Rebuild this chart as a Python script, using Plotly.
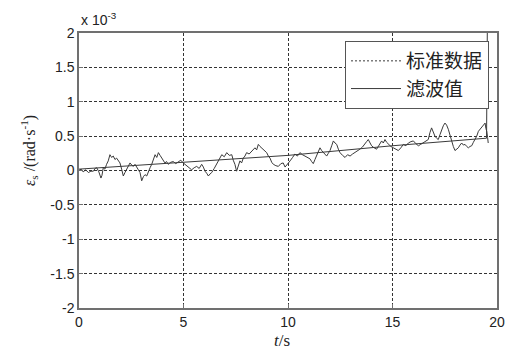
import plotly.graph_objects as go

# Noisy "standard data" (units of 1e-3 rad/s)
t_std = [0.0, 0.1, 0.2, 0.32, 0.45, 0.57, 0.69, 0.77, 0.85, 0.95, 1.05, 1.1, 1.16, 1.24, 1.32,
         1.40, 1.48, 1.56, 1.64, 1.72, 1.80, 1.88, 1.96, 2.04, 2.12, 2.2, 2.28, 2.36,
         2.44, 2.52, 2.60, 2.68, 2.76, 2.84, 2.92, 3.0, 3.08, 3.16, 3.24, 3.32, 3.40, 3.48,
         3.56, 3.64, 3.72, 3.80, 3.88, 3.96, 4.04, 4.11, 4.19, 4.27, 4.39, 4.51,
         4.63, 4.75, 4.87, 4.99, 5.07, 5.15, 5.27, 5.39, 5.51, 5.63, 5.75, 5.87, 5.95, 6.03,
         6.11, 6.19, 6.27, 6.35, 6.47, 6.59, 6.71, 6.83, 6.95, 7.07, 7.19, 7.31, 7.38, 7.46,
         7.54, 7.62, 7.70, 7.78, 7.86, 7.94, 8.02, 8.14, 8.26, 8.34, 8.42, 8.50, 8.58, 8.66,
         8.74, 8.86, 8.98, 9.06, 9.14, 9.22, 9.30, 9.42, 9.54, 9.66, 9.77, 9.86,
         9.98, 10.10, 10.22, 10.33, 10.45, 10.57, 10.69, 10.81, 10.93, 11.05, 11.13, 11.21,
         11.29, 11.37, 11.45, 11.53, 11.61, 11.69, 11.77, 11.85, 11.93, 12.01, 12.09, 12.17,
         12.25, 12.33, 12.41, 12.49, 12.61, 12.73, 12.85, 12.97, 13.09, 13.21, 13.33, 13.44,
         13.56, 13.68, 13.76, 13.84, 13.92, 14.0, 14.12, 14.24, 14.36, 14.48, 14.56, 14.64,
         14.72, 14.80, 14.92, 15.04, 15.16, 15.28, 15.40, 15.52, 15.64, 15.76, 15.88, 16.0,
         16.12, 16.24, 16.35, 16.47, 16.59, 16.71, 16.79, 16.87, 16.95, 17.03, 17.11, 17.19,
         17.27, 17.35, 17.43, 17.51, 17.59, 17.67, 17.75, 17.83, 17.91, 17.99, 18.07, 18.15,
         18.23, 18.31, 18.39, 18.47, 18.55, 18.63, 18.71, 18.79, 18.87, 18.95, 19.03, 19.11,
         19.19, 19.27, 19.35, 19.43, 19.47, 19.51, 19.55, 19.58]
v_std = [0.0, 0.02, -0.02, 0.01, -0.03, -0.01, -0.01, 0.03, 0.04, -0.02, -0.11, -0.07, 0.04, 0.02, 0.09,
         0.14, 0.23, 0.19, 0.21, 0.16, 0.18, 0.14, 0.11, 0.02, -0.08, -0.03, 0.01, 0.07,
         0.11, 0.08, 0.06, 0.09, 0.04, 0.01, -0.03, -0.15, -0.09, -0.06, -0.08, -0.01, 0.04, 0.09,
         0.17, 0.23, 0.19, 0.26, 0.22, 0.18, 0.14, 0.11, 0.13, 0.09, 0.12, 0.13,
         0.10, 0.13, 0.15, 0.11, 0.09, 0.06, 0.03, 0.01, 0.04, 0.06, 0.03, 0.09, 0.05, -0.01,
         -0.04, -0.08, -0.05, -0.03, 0.03, 0.09, 0.16, 0.23, 0.20, 0.26, 0.22, 0.23, 0.15, 0.09,
         -0.01, 0.07, 0.14, 0.11, 0.18, 0.21, 0.26, 0.24, 0.28, 0.31, 0.33, 0.30, 0.38, 0.35,
         0.33, 0.29, 0.26, 0.21, 0.18, 0.12, 0.09, 0.07, 0.06, 0.10, 0.11, 0.05,
         0.09, 0.14, 0.19, 0.24, 0.21, 0.26, 0.23, 0.21, 0.18, 0.17, 0.13, 0.10,
         0.16, 0.21, 0.27, 0.33, 0.29, 0.26, 0.23, 0.21, 0.25, 0.29, 0.36, 0.43,
         0.40, 0.38, 0.31, 0.26, 0.22, 0.19, 0.23, 0.21, 0.24, 0.26, 0.28, 0.31,
         0.34, 0.38, 0.42, 0.45, 0.40, 0.36, 0.33, 0.31, 0.37, 0.43, 0.40, 0.45,
         0.41, 0.38, 0.35, 0.33, 0.31, 0.29, 0.33, 0.38, 0.36, 0.40, 0.42, 0.43,
         0.39, 0.36, 0.38, 0.40, 0.43, 0.45, 0.55, 0.62, 0.56, 0.50, 0.47, 0.45,
         0.52, 0.60, 0.65, 0.69, 0.66, 0.60, 0.51, 0.43, 0.35, 0.29, 0.31, 0.33,
         0.37, 0.40, 0.37, 0.38, 0.35, 0.33, 0.35, 0.36, 0.41, 0.45, 0.50, 0.57,
         0.60, 0.62, 0.66, 0.69, 0.61, 0.57, 0.48, 0.40]

# Filtered value
t_flt = [0.0, 5.0, 10.0, 15.0, 18.0, 19.5, 19.55]
v_flt = [0.02, 0.12, 0.22, 0.36, 0.43, 0.47, 2.6]

x_ticks = [0, 5, 10, 15, 20]
y_ticks = [-2, -1.5, -1, -0.5, 0, 0.5, 1, 1.5, 2]
y_labels = ["-2", "-1.5", "-1", "-0.5", "0", "0.5", "1", "1.5", "2"]

line_col = "#3a3a3a"

fig = go.Figure()
fig.add_trace(go.Scatter(x=t_std, y=v_std, mode="lines", showlegend=False,
                         line=dict(color=line_col, width=1)))
fig.add_trace(go.Scatter(x=t_flt, y=v_flt, mode="lines", showlegend=False,
                         line=dict(color=line_col, width=1)))
# legend entries
fig.add_trace(go.Scatter(x=[None], y=[None], mode="lines", name="标准数据",
                         line=dict(color=line_col, width=1, dash="2px,2px")))
fig.add_trace(go.Scatter(x=[None], y=[None], mode="lines", name="滤波值",
                         line=dict(color=line_col, width=1)))

axis_common = dict(showline=True, linecolor="#707070", linewidth=1.5, mirror=True,
                   ticks="inside", ticklen=4, tickcolor="#707070", automargin=False,
                   showgrid=True, gridcolor="#333333", gridwidth=1, griddash="3px,2px",
                   zeroline=False,
                   tickfont=dict(family="Liberation Sans, Arial", size=14, color="#222"))

fig.update_xaxes(range=[0, 20], tickvals=x_ticks, **axis_common)
fig.update_yaxes(range=[-2, 2], tickvals=y_ticks, ticktext=y_labels, **axis_common)

L, R, T, B = 79, 8, 33, 44
plot_w = 505 - L - R
plot_h = 352 - T - B

fig.update_layout(
    width=505, height=352,
    margin=dict(l=L, r=R, t=T, b=B, autoexpand=False),
    paper_bgcolor="white", plot_bgcolor="white",
    legend=dict(x=(489 - L) / plot_w, y=(352 - B - 41) / plot_h, xanchor="right", yanchor="top",
                bgcolor="white", bordercolor="#555", borderwidth=1,
                font=dict(family="Noto Sans CJK SC", size=19, color="#222"),
                itemwidth=50, tracegroupgap=0),
    annotations=[
        dict(text="x 10<sup>-3</sup>", x=0.0, y=1.0, xref="paper", yref="paper",
             xanchor="left", yanchor="bottom", yshift=3, showarrow=False,
             font=dict(family="Liberation Sans, Arial", size=14, color="#222")),
        dict(text="<i>ε</i><sub>s</sub> /(rad·s<sup>-1</sup>)",
             x=(16 - L) / plot_w, y=(352 - B - 150) / plot_h,
             xref="paper", yref="paper", showarrow=False, textangle=-90,
             font=dict(family="Liberation Serif, Times New Roman", size=16, color="#222")),
        dict(text="<i>t</i>/s", x=(282 - L) / plot_w, y=(352 - B - 329) / plot_h,
             xref="paper", yref="paper",
             xanchor="center", yanchor="top", showarrow=False,
             font=dict(family="Liberation Serif, Times New Roman", size=17, color="#222")),
    ],
)

fig.write_html("out.html", config={"displayModeBar": False},
               post_script="document.body.style.margin='0px';document.body.style.overflow='hidden';")
